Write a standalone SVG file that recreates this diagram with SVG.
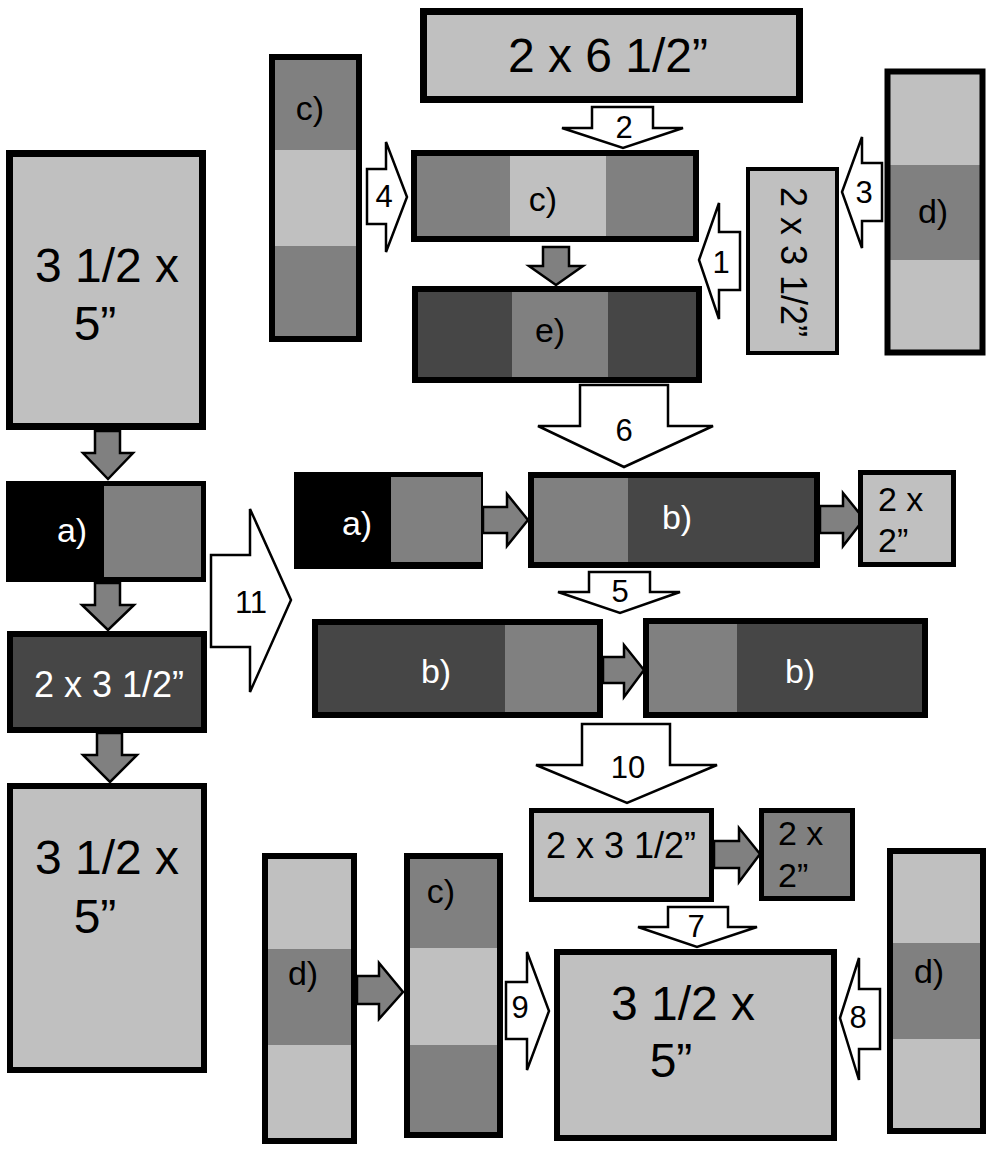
<svg xmlns="http://www.w3.org/2000/svg" width="993" height="1149" viewBox="0 0 993 1149">
<style>
.bd{fill:none;stroke:#000;stroke-width:6}
.lt{fill:#c0c0c0}
.md{fill:#808080}
.dk{fill:#464646}
.bk{fill:#000}
.t{font-family:"Liberation Sans",Arial,sans-serif;fill:#000;text-anchor:middle}
.s{text-anchor:start}
.w{fill:#fff}
.big{font-size:48px}
.mid{font-size:36px}
.lab{font-size:34px}
.num{font-size:31px}
.ga{fill:#808080;stroke:#000;stroke-width:2.5;stroke-linejoin:miter}
.wa{fill:#fff;stroke:#000;stroke-width:2.5;stroke-linejoin:miter}
</style>
<rect width="993" height="1149" fill="#fff"/>

<g id="connectors">
<polygon class="ga" points="95,431 120,431 120,453 133,453 108,479 83,453 95,453"/>
<polygon class="ga" points="95,583 120,583 120,605 134,605 108,630 82,605 95,605"/>
<polygon class="ga" points="97,733 122,733 122,755 137,755 110,782 83,755 97,755"/>
<polygon class="wa" points="211,555 250,555 250,509 291,600 250,692 250,647 211,647"/>
<polygon class="wa" points="592,107 653,107 653,128 683,128 623,148 562,128 592,128"/>
<polygon class="wa" points="367,169 386,169 386,142 407,197 386,252 386,224 367,224"/>
<polygon class="ga" points="543,247 569,247 569,266 583,266 556,285 529,266 543,266"/>
<polygon class="wa" points="699,260 719,203 719,232 740,232 740,290 719,290 719,319"/>
<polygon class="wa" points="842,192 862,137 862,163 882,163 882,221 862,221 862,248"/>
<polygon class="wa" points="580,385 668,385 668,426 713,426 624,467 538,426 580,426"/>
<polygon class="ga" points="483,507 507,507 507,494 528,520 507,546 507,533 483,533"/>
<polygon class="ga" points="820,506 843,506 843,493 864,519 843,546 843,533 820,533"/>
<polygon class="wa" points="589,572 650,572 650,592 680,592 620,613 558,592 589,592"/>
<polygon class="ga" points="603,657 624,657 624,645 644,670 624,697 624,683 603,683"/>
<polygon class="wa" points="582,724 670,724 670,765 717,765 627,803 536,765 582,765"/>
<polygon class="ga" points="714,841 739,841 739,828 760,854 739,882 739,868 714,868"/>
<polygon class="wa" points="668,907 728,907 728,927 757,927 697,947 638,927 668,927"/>
<polygon class="wa" points="506,982 527,982 527,952 549,1011 527,1070 527,1039 506,1039"/>
<polygon class="wa" points="840,1018 859,958 859,989 880,989 880,1049 859,1049 859,1080"/>
<polygon class="ga" points="357,976 379,976 379,963 403,992 379,1019 379,1004 357,1004"/>
<text class="t num" x="251" y="613">11</text>
<text class="t num" x="624" y="138">2</text>
<text class="t num" x="384" y="207">4</text>
<text class="t num" x="721" y="273">1</text>
<text class="t num" x="864" y="203">3</text>
<text class="t num" x="624" y="441">6</text>
<text class="t num" x="620" y="602">5</text>
<text class="t num" x="628" y="778">10</text>
<text class="t num" x="696" y="937">7</text>
<text class="t num" x="520" y="1018">9</text>
<text class="t num" x="858" y="1028">8</text>
</g>

<g id="n-left-top">
<rect class="lt" x="9.5" y="153.5" width="193" height="273" stroke="#000" stroke-width="7"/>
<text class="t big" x="107" y="282">3 1/2 x</text>
<text class="t big" x="95" y="340">5”</text>
</g>

<g id="n-left-a">
<rect class="bk" x="6" y="481" width="200" height="101"/>
<rect class="md" x="104" y="486" width="97" height="91"/>
<text class="t lab w" x="72" y="542">a)</text>
</g>

<g id="n-left-dark">
<rect class="dk" x="10" y="634" width="194" height="96" stroke="#000" stroke-width="6"/>
<text class="t mid w" x="109" y="697">2 x 3 1/2”</text>
</g>

<g id="n-left-bottom">
<rect class="lt" x="10" y="786" width="194" height="284" stroke="#000" stroke-width="6"/>
<text class="t big" x="107" y="874">3 1/2 x</text>
<text class="t big" x="95" y="933">5”</text>
</g>

<g id="n-top">
<rect class="lt" x="423.5" y="11.5" width="376" height="88" stroke="#000" stroke-width="7"/>
<text class="t big" x="608" y="72">2 x 6 1/2”</text>
</g>

<g id="n-strip-c-top">
<rect class="md" x="273" y="58" width="85" height="92"/>
<rect class="lt" x="273" y="150" width="85" height="96"/>
<rect class="md" x="273" y="246" width="85" height="92"/>
<rect class="bd" x="272" y="57" width="87" height="282"/>
<text class="t lab" x="310" y="120">c)</text>
</g>

<g id="n-c-row">
<rect class="md" x="417" y="156" width="93" height="80"/>
<rect class="lt" x="510" y="156" width="96" height="80"/>
<rect class="md" x="606" y="156" width="87" height="80"/>
<rect class="bd" x="414" y="153" width="282" height="86"/>
<text class="t lab" x="543" y="211">c)</text>
</g>

<g id="n-e-row">
<rect class="dk" x="418" y="292" width="94" height="85"/>
<rect class="md" x="512" y="292" width="96" height="85"/>
<rect class="dk" x="608" y="292" width="88" height="85"/>
<rect class="bd" x="415" y="289" width="284" height="91"/>
<text class="t lab" x="550" y="342">e)</text>
</g>

<g id="n-vertical">
<rect class="lt" x="748" y="169" width="89" height="184" stroke="#000" stroke-width="4"/>
<text class="t mid" transform="translate(781,262) rotate(90)">2 x 3 1/2”</text>
</g>

<g id="n-strip-d-top">
<rect class="lt" x="887" y="71" width="96" height="94"/>
<rect class="md" x="887" y="165" width="96" height="95"/>
<rect class="lt" x="887" y="260" width="96" height="93"/>
<rect class="bd" x="887.5" y="71.5" width="95" height="281" stroke-width="7"/>
<text class="t lab" x="933" y="223">d)</text>
</g>

<g id="n-a-mid">
<rect class="bk" x="294" y="472" width="189" height="97"/>
<rect class="md" x="391" y="477" width="90" height="85"/>
<text class="t lab w" x="357" y="535">a)</text>
</g>

<g id="n-b-top">
<rect class="md" x="534" y="478" width="94" height="84"/>
<rect class="dk" x="628" y="478" width="186" height="84"/>
<rect class="bd" x="531" y="475" width="286" height="90"/>
<text class="t lab w" x="677" y="529">b)</text>
</g>

<g id="n-2x2-light">
<rect class="lt" x="860.5" y="472.5" width="93" height="92" stroke="#000" stroke-width="5"/>
<text class="t lab s" x="878" y="511">2 x</text>
<text class="t lab s" x="878" y="552">2”</text>
</g>

<g id="n-b-left">
<rect class="dk" x="318" y="625" width="187" height="87"/>
<rect class="md" x="505" y="625" width="92" height="87"/>
<rect class="bd" x="315" y="622" width="285" height="93"/>
<text class="t lab w" x="436" y="683">b)</text>
</g>

<g id="n-b-right">
<rect class="md" x="649" y="624" width="88" height="88"/>
<rect class="dk" x="737" y="624" width="185" height="88"/>
<rect class="bd" x="646" y="621" width="279" height="94"/>
<text class="t lab w" x="800" y="683">b)</text>
</g>

<g id="n-light-2x3">
<rect class="lt" x="531.5" y="810.5" width="180" height="89" stroke="#000" stroke-width="5"/>
<text class="t mid" x="621" y="858">2 x 3 1/2”</text>
</g>

<g id="n-2x2-gray">
<rect class="md" x="761.5" y="810.5" width="91" height="88" stroke="#000" stroke-width="5"/>
<text class="t lab s" x="778" y="845">2 x</text>
<text class="t lab s" x="778" y="887">2”</text>
</g>

<g id="n-bottom-big">
<rect class="lt" x="557" y="952" width="277" height="186" stroke="#000" stroke-width="6"/>
<text class="t big" x="683" y="1020">3 1/2 x</text>
<text class="t big" x="671" y="1077">5”</text>
</g>

<g id="n-strip-d-right">
<rect class="lt" x="890" y="851" width="93" height="92"/>
<rect class="md" x="890" y="943" width="93" height="96"/>
<rect class="lt" x="890" y="1039" width="93" height="92"/>
<rect class="bd" x="890" y="851" width="93" height="280"/>
<text class="t lab" x="929" y="983">d)</text>
</g>

<g id="n-strip-d-left">
<rect class="lt" x="265" y="856" width="89" height="93"/>
<rect class="md" x="265" y="949" width="89" height="96"/>
<rect class="lt" x="265" y="1045" width="89" height="96"/>
<rect class="bd" x="265" y="856" width="89" height="285"/>
<text class="t lab" x="303" y="985">d)</text>
</g>

<g id="n-strip-c-bottom">
<rect class="md" x="407" y="856" width="93" height="92"/>
<rect class="lt" x="407" y="948" width="93" height="97"/>
<rect class="md" x="407" y="1045" width="93" height="90"/>
<rect class="bd" x="407" y="856" width="93" height="279"/>
<text class="t lab" x="441" y="903">c)</text>
</g>
</svg>
